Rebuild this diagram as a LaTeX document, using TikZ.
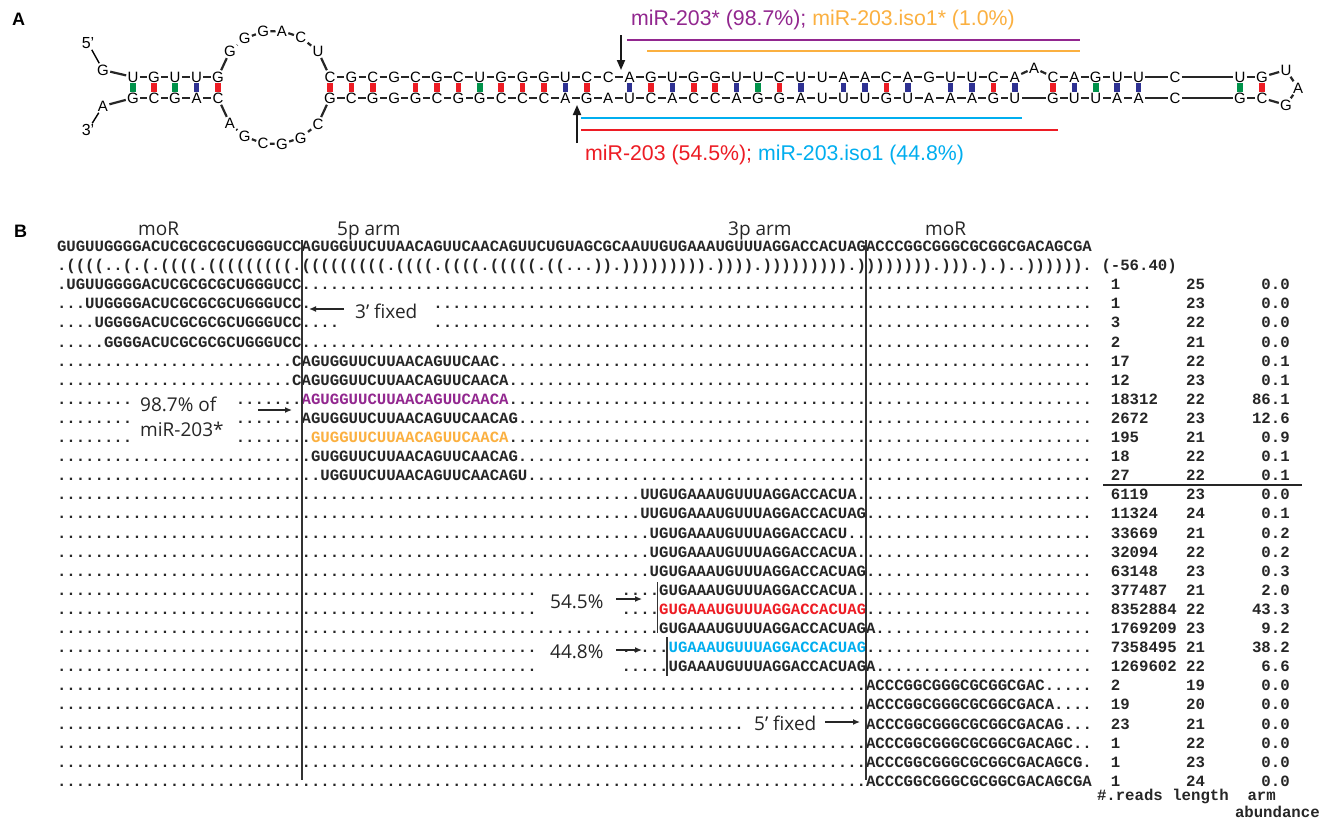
\documentclass[tikz,border=0pt]{standalone}
\usepackage{fontspec}
\setmainfont{Liberation Sans}
\newfontfamily\monof{Liberation Mono}
\newfontfamily\labf{Open Sans}
\usetikzlibrary{arrows.meta,calc}
\definecolor{mpurple}{HTML}{92278F}
\definecolor{morange}{HTML}{FBB040}
\definecolor{mred}{HTML}{ED1C24}
\definecolor{mcyan}{HTML}{00AEEF}
\definecolor{pgc}{HTML}{ED1C24}
\definecolor{pau}{HTML}{2E3192}
\definecolor{pgu}{HTML}{00924A}
\ExplSyntaxOn
\cs_new:Npn \Dots #1 { \prg_replicate:nn {#1} {.} }
\ExplSyntaxOff
\newcommand\Sp[1]{\phantom{\Dots{#1}}}
\tikzset{
 seq/.style={font=\monof\bfseries\fontsize{15.68}{18}\selectfont, inner sep=0pt, outer sep=0pt, anchor=base west, text=black!85},
 nt/.style={font=\fontsize{15}{15}\selectfont, inner sep=1.2pt, text height=10.7pt, text depth=0pt},
 bb/.style={line width=2.2pt, black!85},
 lab/.style={font=\labf\fontsize{19}{22}\selectfont, inner sep=0pt, anchor=base west, text=black!85},
 panel/.style={font=\bfseries\fontsize{18}{18}\selectfont, inner sep=0pt, anchor=base west},
 arrB/.style={line width=1.3pt, black!85, -{Latex[length=7pt,width=6pt]}},
 arrA/.style={line width=1.8pt, black!90, -{Triangle[length=10pt,width=8pt]}},
 vline/.style={line width=1.8pt, black!80},
 mline/.style={line width=2.6pt},
}
\newcommand\Srow[3]{\node[seq] (#1) at (57,{251.5+19.1*#2}) {#3};}
\newcommand\Nums[5]{%
 \node[seq] (#1r) at (1110.9,{251.5+19.1*#2}) {#3};
 \node[seq] (#1l) at (1186.2,{251.5+19.1*#2}) {#4};
 \node[seq,anchor=base east] (#1a) at (1289.7,{251.5+19.1*#2}) {#5};}
\begin{document}
\begin{tikzpicture}[x=1pt,y=-1pt]
\useasboundingbox (0,0) rectangle (1335,819);
\fill[white] (0,0) rectangle (1335,819);
% ================= Panel A =================
\node[panel] (pA) at (12,25) {A};
\node[nt,font=\fontsize{16}{16}\selectfont] (p5) at (88,43) {5’};
\node[nt,font=\fontsize{16}{16}\selectfont] (p3) at (88,130) {3’};
\node[nt] (n1) at (103,70) {G};
\node[nt] (n110) at (103,106) {A};
% stem 1
\foreach \i/\t/\b/\x/\c in {2/U/G/133/pgu,3/G/C/154/pgc,4/U/G/175/pgu,5/U/A/196.5/pau,6/G/C/218/pgc}{
  \pgfmathtruncatemacro\j{111-\i}
  \node[nt] (n\i) at (\x,77) {\t};
  \node[nt] (n\j) at (\x,98) {\b};
  \path[fill=\c] ({\x-2.8},83.3) rectangle ({\x+2.8},91.7);
}
% internal loop (circle)
\node[nt] (n7) at (229.9,51.4) {G};
\node[nt] (n8) at (244.6,38.6) {G};
\node[nt] (n9) at (263.1,31.5) {G};
\node[nt] (n10) at (281.9,31.1) {A};
\node[nt] (n11) at (300.8,37.2) {C};
\node[nt] (n12) at (318,51.2) {U};
\node[nt] (n104) at (229.9,123.6) {A};
\node[nt] (n103) at (244.6,136.4) {G};
\node[nt] (n102) at (263.1,143.5) {C};
\node[nt] (n101) at (281.9,143.9) {G};
\node[nt] (n100) at (300.8,137.8) {G};
\node[nt] (n99) at (318,123.8) {C};
% main stem
\foreach \i/\t/\b/\c in {13/C/G/pgc,14/G/C/pgc,15/C/G/pgc,16/G/G/none,17/C/G/pgc,18/G/C/pgc,19/C/G/pgc,20/U/G/pgu,21/G/C/pgc,22/G/C/pgc,23/G/C/pgc,24/U/A/pau,25/C/G/pgc,26/C/A/none,27/A/U/pau,28/G/C/pgc,29/U/A/pau,30/G/C/pgc,31/G/C/pgc,32/U/A/pau,33/U/G/pgu,34/C/G/pgc,35/U/A/pau,36/U/U/none,37/A/U/pau,38/A/U/pau,39/C/G/pgc,40/A/U/pau,41/G/A/none,42/U/A/pau,43/U/A/pau,44/C/G/pgc,45/A/U/pau}{
  \pgfmathtruncatemacro\j{111-\i}
  \pgfmathsetmacro\x{330+(\i-13)*21.4}
  \node[nt] (n\i) at (\x,77) {\t};
  \node[nt] (n\j) at (\x,98) {\b};
  \path[fill=\c] ({\x-2.8},83.3) rectangle ({\x+2.8},91.7);
}
\node[nt] (n46) at (1034,68) {A};
% terminal part
\foreach \i/\t/\b/\x/\c in {47/C/G/1053/pgc,48/A/U/1074.4/pau,49/G/U/1095.8/pgu,50/U/A/1117.2/pau,51/U/A/1138.6/pau,52/C/C/1175/none,53/U/G/1240/pgu,54/G/C/1262/pgc}{
  \pgfmathtruncatemacro\j{112-\i}
  \node[nt] (n\i) at (\x,77) {\t};
  \node[nt] (n\j) at (\x,98) {\b};
  \path[fill=\c] ({\x-2.8},83.3) rectangle ({\x+2.8},91.7);
}
\node[nt] (n55) at (1286,70) {U};
\node[nt] (n56) at (1298,88) {A};
\node[nt] (n57) at (1286,105) {G};
% backbone
\foreach \i in {13,...,44}{\pgfmathtruncatemacro\k{\i+1}\draw[bb] (n\i) -- (n\k);}
\foreach \i in {66,...,97}{\pgfmathtruncatemacro\k{\i+1}\draw[bb] (n\i) -- (n\k);}
\foreach \a/\b in {1/2,2/3,3/4,4/5,5/6,6/7,7/8,8/9,9/10,10/11,11/12,12/13,45/46,46/47,47/48,48/49,49/50,50/51,51/52,52/53,53/54,54/55,55/56,56/57,57/58,58/59,59/60,60/61,61/62,62/63,63/64,64/65,65/66,98/99,99/100,100/101,101/102,102/103,103/104,104/105,105/106,106/107,107/108,108/109,109/110}{
  \draw[bb] (n\a) -- (n\b);
}
\draw[line width=1.4pt] (p5) -- (n1);
\draw[line width=1.4pt] (n110) -- (p3);
% annotation lines
\coordinate (pl1) at (627,40); \coordinate (pl2) at (1080,40);
\coordinate (ol1) at (647,51); \coordinate (ol2) at (1080,51);
\coordinate (cl1) at (581,118); \coordinate (cl2) at (1022,118);
\coordinate (rl1) at (581,130); \coordinate (rl2) at (1058,130);
\draw[mline,mpurple] (pl1) -- (pl2);
\draw[mline,morange] (ol1) -- (ol2);
\draw[mline,mcyan] (cl1) -- (cl2);
\draw[mline,mred] (rl1) -- (rl2);
\coordinate (da1) at (621,35); \coordinate (da2) at (621,70);
\coordinate (ua1) at (577,143); \coordinate (ua2) at (577,105);
\draw[arrA] (da1) -- (da2);
\draw[arrA] (ua1) -- (ua2);
\node[inner sep=0pt,anchor=base west,font=\fontsize{21.3}{21}\selectfont] (topl) at (631,25) {\textcolor{mpurple}{miR-203* (98.7\%);} \textcolor{morange}{miR-203.iso1* (1.0\%)}};
\node[inner sep=0pt,anchor=base west,font=\fontsize{21.3}{21}\selectfont] (botl) at (585,160) {\textcolor{mred}{miR-203 (54.5\%);} \textcolor{mcyan}{miR-203.iso1 (44.8\%)}};
% ================= Panel B =================
\node[panel] (pB) at (14,237) {B};
\node[lab] (h1) at (138,235) {moR};
\node[lab] (h2) at (337,235) {5p arm};
\node[lab] (h3) at (728,235) {3p arm};
\node[lab] (h4) at (925,235) {moR};
\Srow{r0}{0}{GUGUUGGGGACUCGCGCGCUGGGUCCAGUGGUUCUUAACAGUUCAACAGUUCUGUAGCGCAAUUGUGAAAUGUUUAGGACCACUAGACCCGGCGGGCGCGGCGACAGCGA}
\Srow{r1}{1}{.((((..(.(.((((.(((((((((.(((((((((.((((.((((.(((((.((...)).))))))))).)))).))))))))).)))))))).))).).)..)))))).}
\node[seq] (mfe) at (1101.5,{251.5+19.1}) {(-56.40)};
\Srow{r2}{2}{.UGUUGGGGACUCGCGCGCUGGGUCC\Dots{84}}\Nums{r2}{2}{1}{25}{0.0}
\Srow{r3}{3}{...UUGGGGACUCGCGCGCUGGGUCC.\Sp{13}\Dots{70}}\Nums{r3}{3}{1}{23}{0.0}
\Srow{r4}{4}{....UGGGGACUCGCGCGCUGGGUCC\Dots{4}\Sp{10}\Dots{70}}\Nums{r4}{4}{3}{22}{0.0}
\Srow{r5}{5}{.....GGGGACUCGCGCGCUGGGUCC\Dots{84}}\Nums{r5}{5}{2}{21}{0.0}
\Srow{r6}{6}{\Dots{25}CAGUGGUUCUUAACAGUUCAAC\Dots{63}}\Nums{r6}{6}{17}{22}{0.1}
\Srow{r7}{7}{\Dots{25}CAGUGGUUCUUAACAGUUCAACA\Dots{62}}\Nums{r7}{7}{12}{23}{0.1}
\Srow{r8}{8}{\Dots{8}\Sp{11}\Dots{7}\textcolor{mpurple}{AGUGGUUCUUAACAGUUCAACA}\Dots{62}}\Nums{r8}{8}{18312}{22}{86.1}
\Srow{r9}{9}{\Dots{8}\Sp{11}\Dots{7}AGUGGUUCUUAACAGUUCAACAG\Dots{61}}\Nums{r9}{9}{2672}{23}{12.6}
\Srow{r10}{10}{\Dots{8}\Sp{11}\Dots{8}\textcolor{morange}{GUGGUUCUUAACAGUUCAACA}\Dots{62}}\Nums{r10}{10}{195}{21}{0.9}
\Srow{r11}{11}{\Dots{27}GUGGUUCUUAACAGUUCAACAG\Dots{61}}\Nums{r11}{11}{18}{22}{0.1}
\Srow{r12}{12}{\Dots{28}UGGUUCUUAACAGUUCAACAGU\Dots{60}}\Nums{r12}{12}{27}{22}{0.1}
\Srow{r13}{13}{\Dots{62}UUGUGAAAUGUUUAGGACCACUA\Dots{25}}\Nums{r13}{13}{6119}{23}{0.0}
\Srow{r14}{14}{\Dots{62}UUGUGAAAUGUUUAGGACCACUAG\Dots{24}}\Nums{r14}{14}{11324}{24}{0.1}
\Srow{r15}{15}{\Dots{63}UGUGAAAUGUUUAGGACCACU\Dots{26}}\Nums{r15}{15}{33669}{21}{0.2}
\Srow{r16}{16}{\Dots{63}UGUGAAAUGUUUAGGACCACUA\Dots{25}}\Nums{r16}{16}{32094}{22}{0.2}
\Srow{r17}{17}{\Dots{63}UGUGAAAUGUUUAGGACCACUAG\Dots{24}}\Nums{r17}{17}{63148}{23}{0.3}
\Srow{r18}{18}{\Dots{51}\Sp{9}\Dots{4}GUGAAAUGUUUAGGACCACUA\Dots{25}}\Nums{r18}{18}{377487}{21}{2.0}
\Srow{r19}{19}{\Dots{51}\Sp{9}\Dots{4}\textcolor{mred}{GUGAAAUGUUUAGGACCACUAG}\Dots{24}}\Nums{r19}{19}{8352884}{22}{43.3}
\Srow{r20}{20}{\Dots{64}GUGAAAUGUUUAGGACCACUAGA\Dots{23}}\Nums{r20}{20}{1769209}{23}{9.2}
\Srow{r21}{21}{\Dots{51}\Sp{9}\Dots{5}\textcolor{mcyan}{UGAAAUGUUUAGGACCACUAG}\Dots{24}}\Nums{r21}{21}{7358495}{21}{38.2}
\Srow{r22}{22}{\Dots{51}\Sp{9}\Dots{5}UGAAAUGUUUAGGACCACUAGA\Dots{23}}\Nums{r22}{22}{1269602}{22}{6.6}
\Srow{r23}{23}{\Dots{86}ACCCGGCGGGCGCGGCGAC\Dots{5}}\Nums{r23}{23}{2}{19}{0.0}
\Srow{r24}{24}{\Dots{86}ACCCGGCGGGCGCGGCGACA\Dots{4}}\Nums{r24}{24}{19}{20}{0.0}
\Srow{r25}{25}{\Dots{73}\Sp{13}ACCCGGCGGGCGCGGCGACAG\Dots{3}}\Nums{r25}{25}{23}{21}{0.0}
\Srow{r26}{26}{\Dots{86}ACCCGGCGGGCGCGGCGACAGC\Dots{2}}\Nums{r26}{26}{1}{22}{0.0}
\Srow{r27}{27}{\Dots{86}ACCCGGCGGGCGCGGCGACAGCG\Dots{1}}\Nums{r27}{27}{1}{23}{0.0}
\Srow{r28}{28}{\Dots{86}ACCCGGCGGGCGCGGCGACAGCGA}\Nums{r28}{28}{1}{24}{0.0}
\node[seq] (fh1) at (1097,800.5) {\#.reads\Sp{1}length\Sp{2}arm};
\node[seq] (fh2) at (1235,817) {abundance};
% vertical lines and brackets
\coordinate (v1a) at (301.7,240); \coordinate (v1b) at (301.7,780);
\coordinate (v2a) at (866.3,240); \coordinate (v2b) at (866.3,780);
\draw[vline] (v1a) -- (v1b);
\draw[vline] (v2a) -- (v2b);
\coordinate (k1a) at (657.5,582); \coordinate (k1b) at (657.5,633);
\coordinate (k2a) at (667,637); \coordinate (k2b) at (667,676);
\draw[line width=1.4pt,black!80] (k1a) -- (k1b);
\draw[line width=1.4pt,black!80] (k2a) -- (k2b);
\coordinate (s1) at (1103,485); \coordinate (s2) at (1302,485);
\draw[line width=1.5pt,black!85] (s1) -- (s2);
% annotations
\node[lab] (t3f) at (355,318) {3’ fixed};
\coordinate (a3a) at (344,309); \coordinate (a3b) at (309,309);
\draw[arrB] (a3a) -- (a3b);
\node[lab] (t98a) at (140,411.5) {98.7\% of};
\node[lab] (t98b) at (140,436.5) {miR-203*};
\coordinate (a9a) at (258,410); \coordinate (a9b) at (292,410);
\draw[arrB] (a9a) -- (a9b);
\node[lab] (t54) at (550,608) {54.5\%};
\coordinate (a5a) at (616,599); \coordinate (a5b) at (642,599);
\draw[arrB] (a5a) -- (a5b);
\node[lab] (t44) at (550,658.5) {44.8\%};
\coordinate (a4a) at (616,650); \coordinate (a4b) at (642,650);
\draw[arrB] (a4a) -- (a4b);
\node[lab] (t5f) at (754,730) {5’ fixed};
\coordinate (a6a) at (825,722); \coordinate (a6b) at (860,722);
\draw[arrB] (a6a) -- (a6b);
\end{tikzpicture}
\end{document}
